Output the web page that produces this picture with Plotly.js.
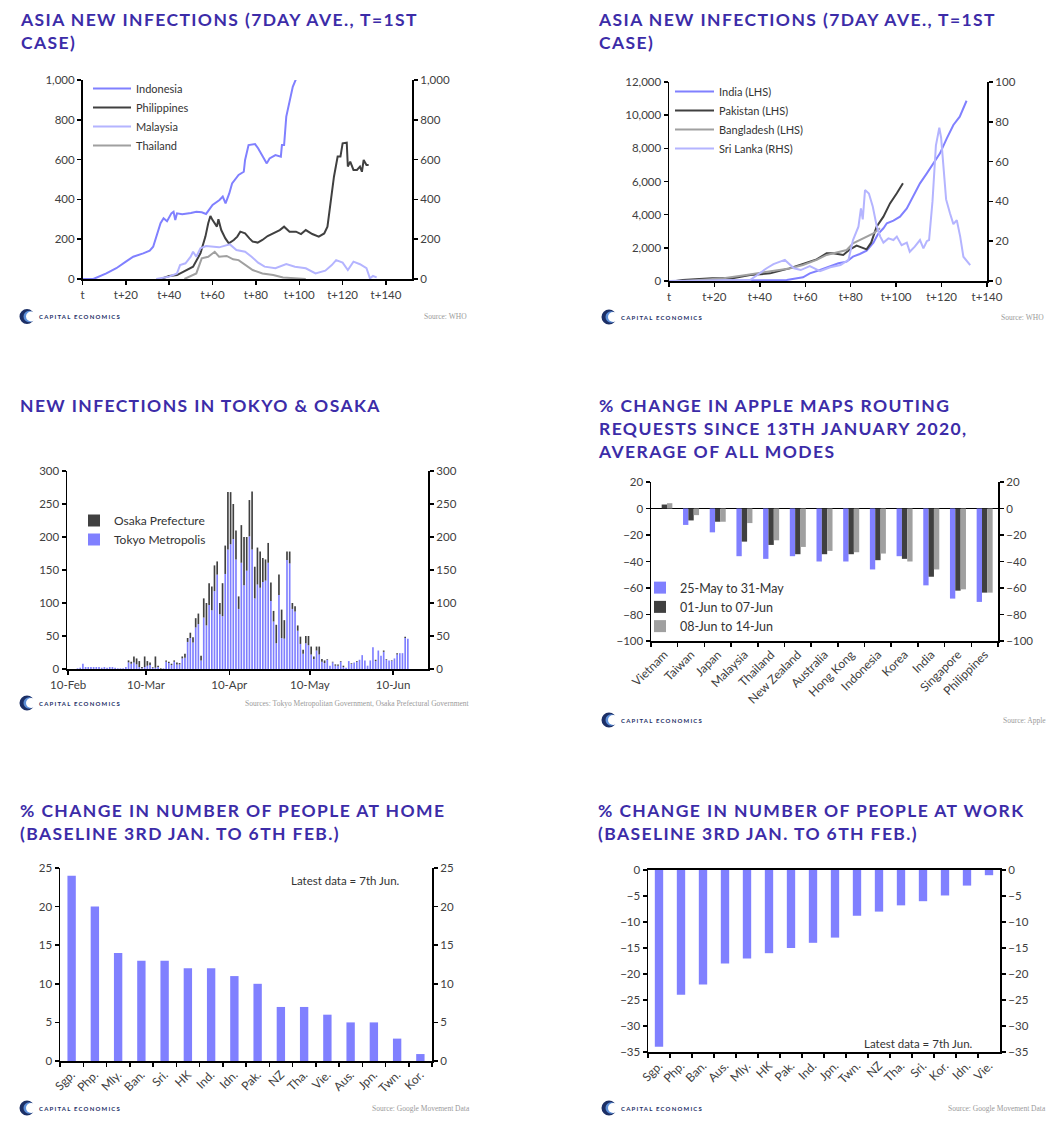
<!DOCTYPE html>
<html><head><meta charset="utf-8">
<script src="https://cdn.plot.ly/plotly-3.0.1.min.js"></script>
<style>html,body{margin:0;padding:0;background:#fff}#chart{width:1062px;height:1130px}</style>
</head><body><div id="chart"></div>
<script>
// ---------------- DATA ----------------
// Panel 1: Asia new infections (7-day ave., t = 1st case)
const idnDays = [0,5,11,15.6,20,23.4,28,31,32.6,34,35,36,37.4,39,41,42,42.8,43.6,46,48,50,52.5,55,57,60,63.2,64.7,66,67.7,69,72,74.4,75,76.6,79.6,81,84,85,86.3,89,91.5,92,93,94,97,98.5];
const idnVals = [0,0,28,54,87,112,129,142,162,213,246,280,305,290,330,338,296,330,325,327,332,338,335,327,372,397,414,380,430,480,523,539,598,673,678,657,598,581,606,623,615,673,673,816,966,1005];
const phlDays = [36,40,43.6,48,51,54.4,56.7,58,59,60,62,62.7,64,65.9,67.5,69.8,71.4,72.8,75,77,78.5,80.8,83,85.4,88,91,93,95.5,98.5,100.8,103,106,109,111.5,113,114.6,116,117.7,119,120,121.9,122.4,123.5,125,126.6,128,128.9,129.7,131,132];
const phlVals = [0,15,20,45,62,129,213,280,317,296,263,300,246,204,179,196,213,238,229,204,188,183,196,216,229,246,263,238,238,226,246,226,213,229,263,397,514,615,615,682,685,565,590,548,548,565,539,598,573,573];
const mysDays = [34,40,43.6,45,47.5,49.9,51,52.5,54.4,57,63,68,71,75,78,81,84,89,94,98,103,107.5,112,115,117,120,122.4,125,128,131,132.6,134,135.7];
const mysVals = [0,12,28,70,79,112,137,112,154,166,159,174,146,137,112,82,62,54,75,62,54,28,42,70,95,82,45,87,74,54,3,15,8];
const thaDays = [47,50,52.5,55,58,61,63,66.5,69.5,72,75,78.5,83,88,92.5,97,103];
const thaVals = [0,15,28,104,112,137,112,116,99,95,74,45,28,20,8,3,0];
const p1Ticks = [0,20,40,60,80,100,120,140];
const p1TickText = ['t','t+20','t+40','t+60','t+80','t+100','t+120','t+140'];

// Panel 2: South Asia new infections
const indDays = [0,51.8,59,62,66.5,71,74.6,78.2,81,84,87,90,92,94.4,95.9,98.8,101.7,104.7,107.6,110.5,113.5,116.4,119.3,122.3,125.2,128,131];
const indVals = [0,60,220,460,660,900,1065,1165,1470,1630,1830,2310,2830,3180,3480,3640,3880,4380,5090,5890,6490,7100,7700,8600,9410,9910,10870];
const pakDays = [3,6,19,28,35.7,44.5,53,59,65,69.4,72.3,76.7,79.7,82.6,85.5,87,89,91.4,94.4,97.3,100.3,103];
const pakVals = [0,60,160,160,360,460,760,1025,1300,1670,1670,1570,1910,2130,1970,1910,2310,3280,3880,4680,5290,5890];
const banDays = [7,24,34,41.5,47.5,53,59,65,69.4,73.8,78.2,81,85.5,90,92.9];
const banVals = [0,160,360,500,620,760,965,1270,1570,1710,1870,2270,2570,2870,3180];
const lkaDays = [0,35.7,43,46,51,55,58,62,66.5,71,75.5,79,81,83.4,84.5,85.3,86.3,88,89.7,91.5,93,94.4,96.6,98.8,100.3,102.4,104.7,106,108.2,110.5,112,113.5,114.5,116,117.5,119,119.8,120.8,122,123.7,125.2,126.7,128.2,129.6,130.8,132.6];
const lkaVals = [0,0.5,6.4,8.5,10.6,6.4,5.5,7.5,5,6.9,8,10.6,20.6,27.3,36.5,31,45.7,44,37.4,27.3,22.3,19.3,21.4,20.6,22.3,18,19.3,14.7,17.3,20.6,16.4,20,20.6,40,68,77,72,56,41,34,28.6,30.6,22.3,12.2,10.6,8];
const p2Ticks = [0,20,40,60,80,100,120,140];
const p2TickText = ['t','t+20','t+40','t+60','t+80','t+100','t+120','t+140'];

// Panel 3: new infections in Tokyo & Osaka, daily from 13-Feb-2020
const tokyoFirstDay = '2020-02-13';
const tokyoCases = [1,2,8,3,3,3,3,3,3,2,3,2,3,3,2,1,1,
  1,3,10,8,10,7,3,1,3,5,6,2,2,3,0,1,11,9,6,11,7,7,16,17,41,47,40,63,68,13,78,
  66,97,89,118,143,83,80,144,181,189,197,166,91,161,127,149,201,181,107,128,123,132,134,161,103,72,39,112,47,46,
  165,160,91,87,58,38,23,39,36,22,15,28,22,11,9,14,5,10,5,5,11,3,2,12,8,10,11,14,21,13,5,
  13,33,12,28,20,26,14,13,12,16,22,24,24,47,46];
const osakaCases = [0,0,0,0,0,0,0,0,0,0,0,0,0,0,0,0,0,
  0,0,3,3,9,9,9,2,16,7,4,1,17,2,1,0,2,2,2,2,3,2,3,6,6,8,8,14,16,7,29,
  34,33,36,39,20,17,50,43,87,79,53,44,19,57,73,51,55,88,48,56,55,36,32,30,28,16,28,31,43,28,
  13,18,9,8,8,11,6,11,14,12,4,6,12,4,4,1,0,1,2,2,1,2,0,0,1,0,1,0,0,0,0,
  0,0,2,0,0,2,1,0,1,0,2,0,0,2,0];
const p3TickVals = ['2020-02-10','2020-03-10','2020-04-10','2020-05-10','2020-06-10'];
const p3TickText = ['10-Feb','10-Mar','10-Apr','10-May','10-Jun'];

// Panel 4: Apple maps routing requests
const appleCountries = ['Vietnam','Taiwan','Japan','Malaysia','Thailand','New Zealand','Australia','Hong Kong','Indonesia','Korea','India','Singapore','Philippines'];
const appleWeek1 = [null,-12.4,-18,-36,-38,-36,-40,-40,-46,-36,-58,-68,-70.5];
const appleWeek2 = [3,-9,-10,-25,-27.5,-34.5,-34.5,-34.5,-39,-38,-51.5,-62,-63.5];
const appleWeek3 = [4,-5,-10,-11,-24,-29,-32,-33,-34,-40,-46,-61,-63.5];

// Panel 5: people at home
const homeCountries = ['Sgp.','Php.','Mly.','Ban.','Sri.','HK','Ind.','Idn.','Pak.','NZ','Tha.','Vie.','Aus.','Jpn.','Twn.','Kor.'];
const homeVals = [24,20,14,13,13,12,12,11,10,7,7,6,5,5,2.9,0.9];

// Panel 6: people at work
const workCountries = ['Sgp.','Php.','Ban.','Aus.','Mly.','HK','Pak.','Ind.','Jpn.','Twn.','NZ','Tha.','Sri.','Kor.','Idn.','Vie.'];
const workVals = [-34,-24,-22,-18,-17,-16,-15,-14,-13,-8.8,-8,-6.8,-6,-4.9,-3,-1];

// ---------------- LAYOUT HELPERS ----------------
const W = 1062, H = 1130;
const PX = v => v / W, PY = v => 1 - v / H;
const BLUE = '#8080ff', DARK = '#404040', LAV = '#b4b4ff', GREY = '#a0a0a0';
const TITLE = '#3c2ca8', NAVY = '#1c2f66';
const tickFont = {family: 'Lato', size: 11.5, color: '#404040'};

function xAx(l, r, extra) {
  return Object.assign({domain: [PX(l), PX(r)], showline: true, linecolor: '#000', linewidth: 2,
    ticks: 'outside', ticklen: 4, tickwidth: 1.5, tickcolor: '#000', showgrid: false, zeroline: false,
    tickfont: tickFont, fixedrange: true}, extra);
}
function yAx(t, b, extra) {
  return Object.assign({domain: [PY(b), PY(t)], showline: true, linecolor: '#000', linewidth: 1.5,
    ticks: 'outside', ticklen: 4, tickwidth: 1.5, tickcolor: '#000', showgrid: false, zeroline: false,
    tickfont: tickFont, fixedrange: true}, extra);
}

const tokyoDates = tokyoCases.map((_, i) => {
  const d = new Date(tokyoFirstDay + 'T00:00:00Z');
  d.setUTCDate(d.getUTCDate() + i);
  return d.toISOString().slice(0, 10);
});

// ---------------- TRACES ----------------
const line = (xs, ys, name, color, ax, ay, lg) => ({type: 'scatter', mode: 'lines', x: xs, y: ys, name: name,
  line: {color: color, width: 2}, xaxis: ax, yaxis: ay, legend: lg, hoverinfo: 'skip'});
const ghost = (ax, ay) => ({type: 'scatter', x: [], y: [], xaxis: ax, yaxis: ay, showlegend: false, hoverinfo: 'skip'});

const traces = [
  line(idnDays, idnVals, 'Indonesia', BLUE, 'x', 'y', 'legend'),
  line(phlDays, phlVals, 'Philippines', DARK, 'x', 'y', 'legend'),
  line(mysDays, mysVals, 'Malaysia', LAV, 'x', 'y', 'legend'),
  line(thaDays, thaVals, 'Thailand', GREY, 'x', 'y', 'legend'),
  ghost('x', 'y7'),

  line(indDays, indVals, 'India (LHS)', BLUE, 'x2', 'y2', 'legend2'),
  line(pakDays, pakVals, 'Pakistan (LHS)', DARK, 'x2', 'y2', 'legend2'),
  line(banDays, banVals, 'Bangladesh (LHS)', GREY, 'x2', 'y2', 'legend2'),
  line(lkaDays, lkaVals, 'Sri Lanka (RHS)', LAV, 'x2', 'y8', 'legend2'),

  {type: 'bar', x: tokyoDates, y: tokyoCases, name: 'Tokyo Metropolis', marker: {color: BLUE, line: {width: 0}},
   width: 0.62 * 864e5, xperiod: 864e5, xperiodalignment: 'middle', xaxis: 'x3', yaxis: 'y3', legend: 'legend3', legendrank: 2, hoverinfo: 'skip'},
  {type: 'bar', x: tokyoDates, y: osakaCases, base: tokyoCases, name: 'Osaka Prefecture', marker: {color: DARK, line: {width: 0}},
   width: 0.62 * 864e5, xperiod: 864e5, xperiodalignment: 'middle', xaxis: 'x3', yaxis: 'y3', legend: 'legend3', legendrank: 1, hoverinfo: 'skip'},
  ghost('x3', 'y9'),

  {type: 'bar', x: appleCountries, y: appleWeek1, name: '25-May to 31-May', marker: {color: BLUE}, width: 0.2, offset: -0.3, xaxis: 'x4', yaxis: 'y4', legend: 'legend4', hoverinfo: 'skip'},
  {type: 'bar', x: appleCountries, y: appleWeek2, name: '01-Jun to 07-Jun', marker: {color: DARK}, width: 0.2, offset: -0.1, xaxis: 'x4', yaxis: 'y4', legend: 'legend4', hoverinfo: 'skip'},
  {type: 'bar', x: appleCountries, y: appleWeek3, name: '08-Jun to 14-Jun', marker: {color: GREY}, width: 0.2, offset: 0.1, xaxis: 'x4', yaxis: 'y4', legend: 'legend4', hoverinfo: 'skip'},
  ghost('x4', 'y10'),

  {type: 'bar', x: homeCountries, y: homeVals, marker: {color: BLUE}, width: 0.36, xaxis: 'x5', yaxis: 'y5', showlegend: false, hoverinfo: 'skip'},
  ghost('x5', 'y11'),
  {type: 'bar', x: workCountries, y: workVals, marker: {color: BLUE}, width: 0.38, xaxis: 'x6', yaxis: 'y6', showlegend: false, hoverinfo: 'skip'},
  ghost('x6', 'y12')
];

// ---------------- LAYOUT ----------------
const legendBase = (x, y, size, iw) => ({x: PX(x), y: PY(y), xanchor: 'left', yanchor: 'top', bgcolor: 'rgba(0,0,0,0)',
  borderwidth: 0, font: {family: 'Lato', size: size, color: '#333'}, itemwidth: iw, tracegroupgap: 0, traceorder: 'normal'});

const layout = {
  width: W, height: H, margin: {l: 0, r: 0, t: 0, b: 0}, paper_bgcolor: '#fff', plot_bgcolor: 'rgba(0,0,0,0)',
  font: {family: 'Lato', color: '#333'}, barmode: 'overlay', hovermode: false,
  // panel 1
  xaxis: xAx(82.5, 412, {anchor: 'y', range: [0, 152], tickvals: p1Ticks, ticktext: p1TickText}),
  yaxis: yAx(80, 279, {anchor: 'x', range: [0, 1000], dtick: 200, tickformat: ',d'}),
  yaxis7: yAx(80, 279, {anchor: 'x', overlaying: 'y', side: 'right', range: [0, 1000], dtick: 200, tickformat: ',d', linewidth: 2}),
  // panel 2
  xaxis2: xAx(669, 987, {anchor: 'y2', range: [0, 140], tickvals: p2Ticks, ticktext: p2TickText}),
  yaxis2: yAx(82, 281, {anchor: 'x2', range: [0, 12000], dtick: 2000, tickformat: ',d'}),
  yaxis8: yAx(82, 281, {anchor: 'x2', overlaying: 'y2', side: 'right', range: [0, 100], dtick: 20, linewidth: 2}),
  // panel 3
  xaxis3: xAx(67, 428, {anchor: 'y3', type: 'date', range: ['2020-02-09 14:00', '2020-06-23'], tickvals: p3TickVals, ticktext: p3TickText}),
  yaxis3: yAx(471, 669, {anchor: 'x3', range: [0, 300], dtick: 50}),
  yaxis9: yAx(471, 669, {anchor: 'x3', overlaying: 'y3', side: 'right', range: [0, 300], dtick: 50, linewidth: 2}),
  // panel 4
  xaxis4: xAx(651, 998, {anchor: 'y4', type: 'category', range: [-0.5, 12.5], tickson: 'boundaries', tickangle: -45,
    tickfont: {family: 'Lato', size: 12, color: '#404040'}}),
  yaxis4: yAx(482, 641, {anchor: 'x4', range: [-100, 20], dtick: 20, zeroline: true, zerolinecolor: '#000', zerolinewidth: 1.5}),
  yaxis10: yAx(482, 641, {anchor: 'x4', overlaying: 'y4', side: 'right', range: [-100, 20], dtick: 20, linewidth: 2}),
  // panel 5
  xaxis5: xAx(60, 432, {anchor: 'y5', type: 'category', range: [-0.5, 15.5], tickson: 'boundaries', tickangle: -45,
    tickfont: {family: 'Lato', size: 12, color: '#404040'}}),
  yaxis5: yAx(868, 1061, {anchor: 'x5', range: [0, 25], dtick: 5}),
  yaxis11: yAx(868, 1061, {anchor: 'x5', overlaying: 'y5', side: 'right', range: [0, 25], dtick: 5, linewidth: 2}),
  // panel 6
  xaxis6: xAx(648, 1000, {anchor: 'y6', type: 'category', range: [-0.5, 15.5], tickson: 'boundaries', tickangle: -45, mirror: true,
    tickfont: {family: 'Lato', size: 12, color: '#404040'}}),
  yaxis6: yAx(870, 1052, {anchor: 'x6', range: [-35, 0], dtick: 5}),
  yaxis12: yAx(870, 1052, {anchor: 'x6', overlaying: 'y6', side: 'right', range: [-35, 0], dtick: 5, linewidth: 2}),

  legend: legendBase(88, 74, 11, 38),
  legend2: legendBase(670, 77, 11, 39),
  legend3: legendBase(74, 506, 12, 30),
  legend4: legendBase(640, 573, 12.5, 30),
  annotations: [], shapes: []
};

const titleLine = s => '<span style="letter-spacing:1.4px">' + s + '</span>';
function addTitle(x, y, lines) {
  layout.annotations.push({xref: 'paper', yref: 'paper', x: PX(x), y: PY(y), xanchor: 'left', yanchor: 'top', align: 'left',
    showarrow: false, text: '<b>' + lines.map(titleLine).join('<br>') + '</b>',
    font: {family: 'Lato', size: 17.5, color: TITLE}});
}
function addFooter(lx, ly, srcRight, srcText) {
  // logo mark
  const c = (dx0, dx1, dy0, dy1, col) => layout.shapes.push({type: 'circle', xref: 'paper', yref: 'paper',
    xsizemode: 'pixel', ysizemode: 'pixel', xanchor: PX(lx), yanchor: PY(ly), x0: dx0, x1: dx1, y0: dy0, y1: dy1,
    fillcolor: col, line: {width: 0}, layer: 'above'});
  c(-7.5, 7.5, -7.5, 7.5, NAVY);
  c(-3.5, 8, -5.8, 5.8, '#5d8fd8');
  c(-1, 9.5, -5, 5, '#ffffff');
  layout.annotations.push({xref: 'paper', yref: 'paper', x: PX(lx + 9.5), y: PY(ly), xanchor: 'left', yanchor: 'middle',
    showarrow: false, text: '<b><span style="letter-spacing:1.2px">CAPITAL ECONOMICS</span></b>',
    font: {family: 'Lato', size: 6, color: NAVY}});
  layout.annotations.push({xref: 'paper', yref: 'paper', x: PX(srcRight), y: PY(ly), xanchor: 'right', yanchor: 'middle',
    showarrow: false, text: srcText, font: {family: 'Liberation Serif', size: 7.5, color: '#9a9a9a'}});
}

addTitle(17.5, 7, ['ASIA NEW INFECTIONS (7DAY AVE., T=1ST', 'CASE)']);
addTitle(595.5, 7, ['ASIA NEW INFECTIONS (7DAY AVE., T=1ST', 'CASE)']);
addTitle(17.5, 393, ['NEW INFECTIONS IN TOKYO &amp; OSAKA']);
addTitle(595.5, 393, ['% CHANGE IN APPLE MAPS ROUTING', 'REQUESTS SINCE 13TH JANUARY 2020,', 'AVERAGE OF ALL MODES']);
addTitle(17.5, 798, ['% CHANGE IN NUMBER OF PEOPLE AT HOME', '(BASELINE 3RD JAN. TO 6TH FEB.)']);
addTitle(595.5, 798, ['% CHANGE IN NUMBER OF PEOPLE AT WORK', '(BASELINE 3RD JAN. TO 6TH FEB.)']);

addFooter(27, 316.5, 469, 'Source: WHO');
addFooter(609, 317, 1046, 'Source: WHO');
addFooter(27, 703, 472, 'Sources: Tokyo Metropolitan Government, Osaka Prefectural Government');
addFooter(609, 720, 1048, 'Source: Apple');
addFooter(27, 1108, 472, 'Source: Google Movement Data');
addFooter(609, 1108, 1048, 'Source: Google Movement Data');

layout.annotations.push({xref: 'x5', yref: 'y5', x: 14.2, y: 23.4, xanchor: 'right', yanchor: 'middle', showarrow: false,
  text: 'Latest data = 7th Jun.', font: {family: 'Lato', size: 11.5, color: '#333'}});
layout.annotations.push({xref: 'x6', yref: 'y6', x: 14.35, y: -33.4, xanchor: 'right', yanchor: 'middle', showarrow: false,
  text: 'Latest data = 7th Jun.', font: {family: 'Lato', size: 11.5, color: '#333'}});

Plotly.newPlot('chart', traces, layout, {staticPlot: true, displayModeBar: false});
</script>
</body></html>
